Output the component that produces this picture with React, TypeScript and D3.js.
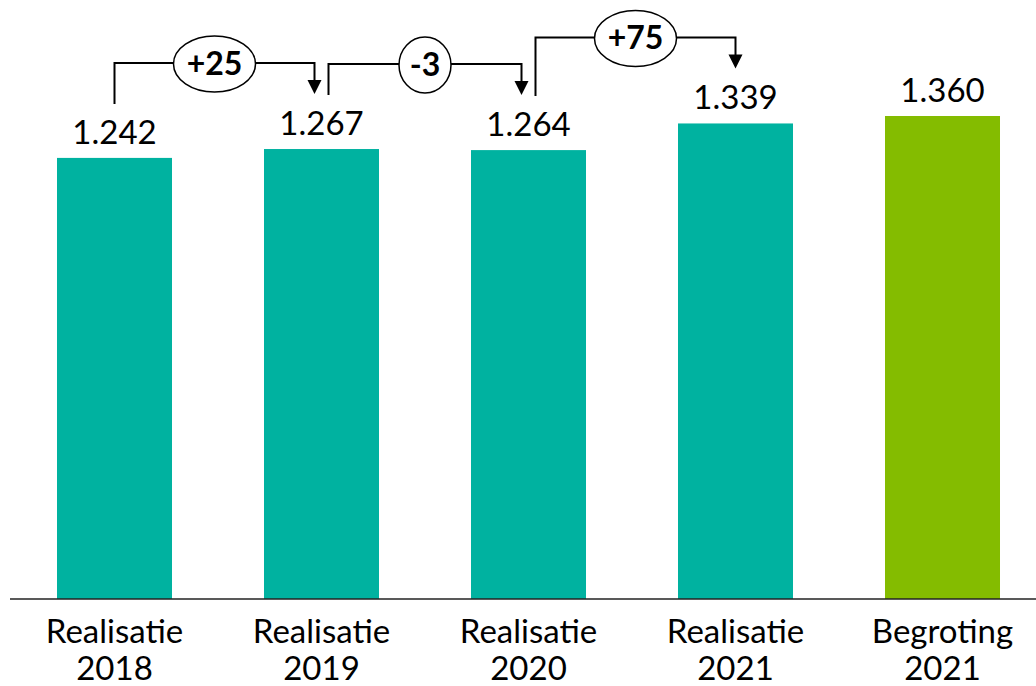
import React from 'react';
import * as d3 from 'd3';

const categories = ['Realisatie 2018', 'Realisatie 2019', 'Realisatie 2020', 'Realisatie 2021', 'Begroting 2021'];
const values = [1242, 1267, 1264, 1339, 1360];
const barColors = ['#00B2A0', '#00B2A0', '#00B2A0', '#00B2A0', '#84BC00'];
// brackets showing the change from one realisation to the next
const steps: [number, number][] = [[0, 1], [1, 2], [2, 3]];

const W = 1036, H = 686;
const FONT = 'Lato, "Open Sans", sans-serif';

export default function App() {
  const x = d3.scaleBand<number>()
    .domain(d3.range(categories.length))
    .range([11, 1046])
    .paddingInner(0.4444)
    .paddingOuter(0.2222);
  const y = d3.scaleLinear().domain([0, 1360]).range([599, 116]);
  const fmt = (v: number) => d3.format(',')(v).replace(',', '.');
  const cx = (i: number) => x(i)! + x.bandwidth() / 2;

  const hasIn = new Set(steps.map(s => s[1]));
  const hasOut = new Set(steps.map(s => s[0]));

  return (
    <svg width={W} height={H} style={{ position: 'absolute', left: 0, top: 0 }} fontFamily={FONT}>
      {values.map((v, i) => (
        <g key={i}>
          <rect x={x(i)} y={y(v)} width={x.bandwidth()} height={y(0) - y(v)} fill={barColors[i]} />
          <text x={cx(i)} y={y(v) - 14} textAnchor="middle" fontSize={33} fill="#000">{fmt(v)}</text>
          {categories[i].split(' ').map((t, k) => (
            <text key={k} x={cx(i)} y={643 + k * 37} textAnchor="middle" fontSize={33} fill="#000">{t}</text>
          ))}
        </g>
      ))}
      <line x1={10} x2={W} y1={y(0)} y2={y(0)} stroke="#222" strokeWidth={1.5} />
      {steps.map(([a, b], i) => {
        const x0 = cx(a) + (hasIn.has(a) ? 7 : 0);
        const x1 = cx(b) - (hasOut.has(b) ? 7 : 0);
        const y0 = y(values[a]) - 54;
        const y1 = y(values[b]) - 55;
        const yh = Math.min(y0, y1) - 31;
        const d = values[b] - values[a];
        const label = (d > 0 ? '+' : '') + d;
        const rx = label.length > 2 ? 41 : 26;
        const mx = (x0 + x1) / 2;
        return (
          <g key={i}>
            <path d={`M${x0},${y0}V${yh}H${x1}V${y1 - 13}`} fill="none" stroke="#000" strokeWidth={2} />
            <path d={`M${x1 - 7},${y1 - 14}L${x1 + 7},${y1 - 14}L${x1},${y1}Z`} fill="#000" />
            <ellipse cx={mx} cy={yh + 1} rx={rx} ry={28} fill="#fff" stroke="#000" strokeWidth={1.5} />
            <text x={mx} y={yh + 12} textAnchor="middle" fontSize={32} fontWeight="bold" fill="#000">{label}</text>
          </g>
        );
      })}
    </svg>
  );
}
